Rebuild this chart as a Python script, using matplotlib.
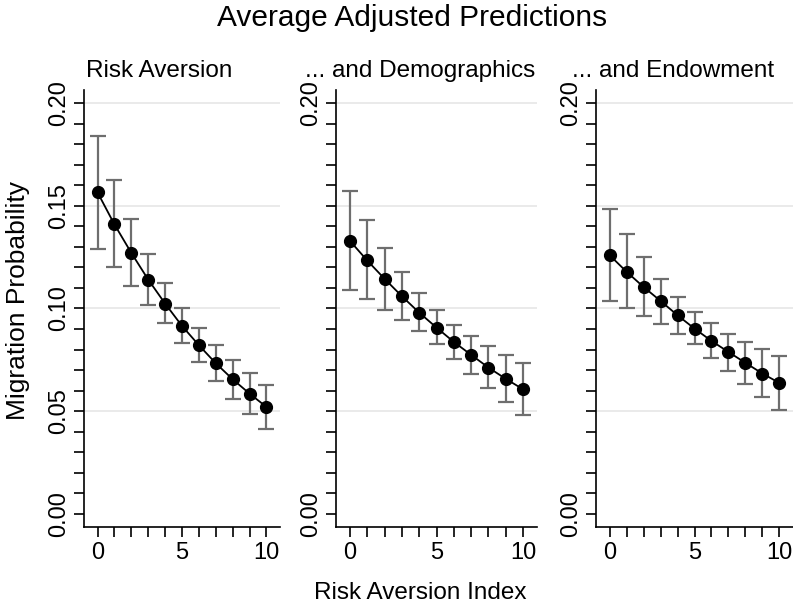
import numpy as np
import matplotlib
matplotlib.use('Agg')
import matplotlib.pyplot as plt
from matplotlib.ticker import MultipleLocator

plt.rcParams['font.family'] = ['Liberation Sans', 'DejaVu Sans']

# data
risk_index = np.arange(11)
panel_titles = ['Risk Aversion', '... and Demographics', '... and Endowment']

est_risk = [0.1566, 0.1410, 0.1271, 0.1141, 0.1024, 0.0915, 0.0821, 0.0733, 0.0655, 0.0585, 0.0520]
lo_risk = [0.1290, 0.1200, 0.1109, 0.1016, 0.0927, 0.0834, 0.0740, 0.0647, 0.0561, 0.0484, 0.0415]
hi_risk = [0.1840, 0.1627, 0.1434, 0.1268, 0.1122, 0.1000, 0.0906, 0.0821, 0.0748, 0.0686, 0.0629]

est_demo = [0.1330, 0.1234, 0.1145, 0.1060, 0.0980, 0.0907, 0.0837, 0.0774, 0.0712, 0.0657, 0.0606]
lo_demo = [0.1089, 0.1044, 0.0995, 0.0946, 0.0889, 0.0826, 0.0756, 0.0683, 0.0613, 0.0544, 0.0480]
hi_demo = [0.1572, 0.1429, 0.1296, 0.1179, 0.1076, 0.0992, 0.0922, 0.0865, 0.0818, 0.0774, 0.0732]

est_endow = [0.1260, 0.1179, 0.1105, 0.1037, 0.0967, 0.0902, 0.0842, 0.0788, 0.0735, 0.0683, 0.0637]
lo_endow = [0.1037, 0.1000, 0.0962, 0.0923, 0.0878, 0.0826, 0.0761, 0.0696, 0.0631, 0.0569, 0.0507]
hi_endow = [0.1486, 0.1362, 0.1249, 0.1146, 0.1057, 0.0984, 0.0927, 0.0878, 0.0837, 0.0801, 0.0769]

y_ticks = [0.00, 0.05, 0.10, 0.15, 0.20]
x_ticks = [0, 5, 10]

series = [(est_risk, lo_risk, hi_risk),
          (est_demo, lo_demo, hi_demo),
          (est_endow, lo_endow, hi_endow)]

W, H = 793, 608
fig = plt.figure(figsize=(W / 100, H / 100), dpi=100)

# axes boxes in pixels: left, right
boxes = [(84, 280), (336, 537), (596, 793)]
top_px, bot_px = 90, 527
title_x = [86, 305, 572]

for i, ((est, lo, hi), (l, r)) in enumerate(zip(series, boxes)):
    ax = fig.add_axes([l / W, 1 - bot_px / H, (r - l) / W, (bot_px - top_px) / H])
    est = np.array(est)
    err = [est - np.array(lo), np.array(hi) - est]
    for g in y_ticks[1:]:
        ax.axhline(g, color='#e8e8e8', lw=1.3, zorder=0)
    ax.errorbar(risk_index, est, yerr=err, fmt='none', ecolor='#6e6e6e',
                elinewidth=1.6, capsize=5.5, capthick=1.6, zorder=2)
    ax.plot(risk_index, est, color='black', lw=1.3, marker='o', ms=8.5,
            mfc='black', mec='black', zorder=3)
    ax.set_xlim(-0.8, 10.8)
    ax.set_ylim(-0.0065, 0.2065)
    ax.spines['top'].set_visible(False)
    ax.spines['right'].set_visible(False)
    for s in ['left', 'bottom']:
        ax.spines[s].set_linewidth(1.2)
    ax.set_xticks(x_ticks)
    ax.xaxis.set_minor_locator(MultipleLocator(1))
    ax.yaxis.set_minor_locator(MultipleLocator(0.01))
    ax.set_yticks(y_ticks)
    if i == 0:
        ax.set_yticklabels([f'{v:.2f}' for v in y_ticks])
    else:
        ax.set_yticklabels([f'{v:.2f}' if v in (0.0, 0.2) else '' for v in y_ticks])
    ax.tick_params(which='both', direction='out', length=7, width=1.2, color='black')
    ax.tick_params(axis='x', labelsize=17, pad=4)
    ax.tick_params(axis='y', labelsize=17, pad=3)
    for t in ax.get_yticklabels():
        t.set_rotation(90)
        t.set_va('center')
    fig.text(title_x[i] / W, 1 - 71 / H, panel_titles[i], fontsize=17.5,
             ha='left', va='center')

fig.text(412 / W, 1 - 18 / H, 'Average Adjusted Predictions', fontsize=21.5,
         ha='center', va='center')
fig.text(420 / W, 1 - 593 / H, 'Risk Aversion Index', fontsize=17.5,
         ha='center', va='center')
fig.text(18 / W, 1 - 300 / H, 'Migration Probability', fontsize=19,
         ha='center', va='center', rotation=90)

fig.savefig('out.png', dpi=100, facecolor='white')
